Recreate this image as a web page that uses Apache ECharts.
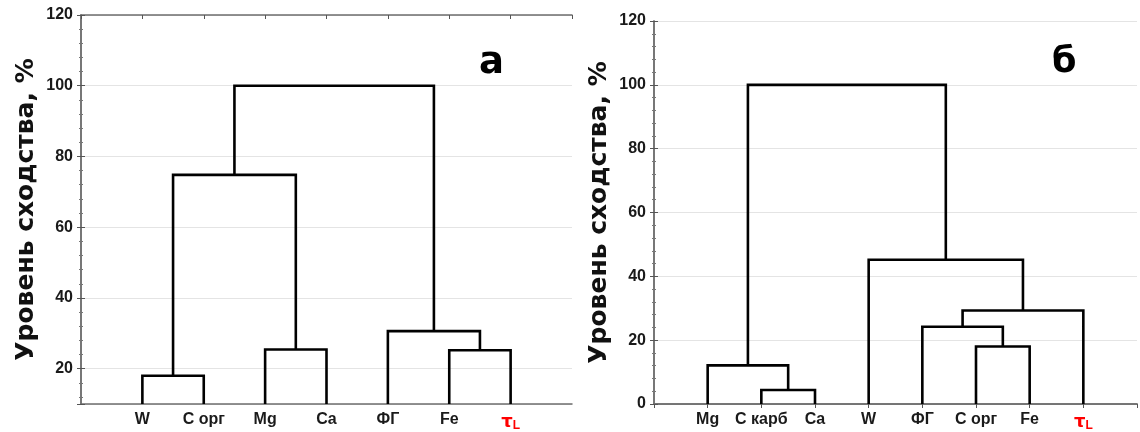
<!DOCTYPE html>
<html>
<head>
<meta charset="utf-8">
<script src="https://cdn.jsdelivr.net/npm/echarts@6/dist/echarts.min.js"></script>
<style>html,body{margin:0;padding:0;background:#fff}#c{width:1140px;height:432px}</style>
</head>
<body>
<div id="c"></div>
<script>
// ---- data: panel "а" ----
const leavesA = ['W', 'C орг', 'Mg', 'Ca', 'ФГ', 'Fe', 'τL'];
const mergeLeftA = [0, 2, 5, 4, 7, 11];
const mergeRightA = [1, 3, 6, 9, 8, 10];
const mergeHeightA = [18, 25.4, 25.2, 30.6, 74.8, 100];
const yRangeA = [10, 120];

// ---- data: panel "б" ----
const leavesB = ['Mg', 'C карб', 'Ca', 'W', 'ФГ', 'C орг', 'Fe', 'τL'];
const mergeLeftB = [1, 0, 5, 4, 11, 3, 9];
const mergeRightB = [2, 8, 6, 10, 7, 12, 13];
const mergeHeightB = [4.4, 12.1, 18, 24.2, 29.3, 45.2, 100];
const yRangeB = [0, 120];

const yAxisName = 'Уровень сходства, %';
const panelLabels = ['а', 'б'];

function links(leaves, L, R, H, base) {
  const xs = leaves.map((_, i) => i + 1);
  const hs = leaves.map(() => base);
  const out = [];
  for (let k = 0; k < H.length; k++) {
    const l = L[k], r = R[k];
    out.push([xs[l], hs[l], xs[r], hs[r], H[k]]);
    xs.push((xs[l] + xs[r]) / 2);
    hs.push(H[k]);
  }
  return out;
}

function renderLink(params, api) {
  const p = [
    api.coord([api.value(0), api.value(1)]),
    api.coord([api.value(0), api.value(4)]),
    api.coord([api.value(2), api.value(4)]),
    api.coord([api.value(2), api.value(3)])
  ];
  return { type: 'polyline', shape: { points: p }, style: { stroke: '#000', lineWidth: 2.6, fill: null } };
}

const lineStyle = { color: '#6e6e6e', width: 1.5 };
const labelFont = { fontFamily: 'Liberation Sans', fontWeight: 'bold', fontSize: 16, color: '#1a1a1a' };
const rich = {
  tau: { color: '#ff0000', fontFamily: 'DejaVu Sans', fontWeight: 'bold', fontSize: 18 },
  sub: { color: '#ff0000', fontFamily: 'Liberation Sans', fontWeight: 'bold', fontSize: 12, padding: [8, 0, 0, 0] }
};
function leafFormatter(leaves) {
  return function (v) {
    const s = leaves[Math.round(v) - 1];
    if (s === undefined || Math.abs(v - Math.round(v)) > 1e-6) return '';
    if (s === 'τL') return '{tau|τ}{sub|L}';
    return s;
  };
}

function axesFor(gi, leaves, yRange) {
  const n = leaves.length + 1;
  const xa = [
    { gridIndex: gi, type: 'value', position: 'bottom', min: 0, max: n, interval: 1,
      axisLine: { lineStyle }, axisTick: { show: false }, splitLine: { show: false },
      axisLabel: Object.assign({ margin: 8, formatter: leafFormatter(leaves), rich }, labelFont) },
    { gridIndex: gi, type: 'value', position: 'top', min: 0, max: n, interval: 1,
      axisLine: { lineStyle }, axisTick: { inside: true, length: 4, lineStyle: { color: '#555' } },
      axisLabel: { show: false }, splitLine: { show: false } }
  ];
  const ya = [
    { gridIndex: gi, type: 'value', position: 'left', min: yRange[0], max: yRange[1], splitNumber: 6,
      name: yAxisName, nameLocation: 'middle', nameGap: 42,
      nameTextStyle: { fontFamily: 'DejaVu Sans', fontWeight: 'bold', fontSize: 25, color: '#111' },
      axisLine: { lineStyle }, axisTick: { inside: true, length: 4, lineStyle: { color: '#555' } },
      minorTick: { show: true, splitNumber: 5, length: 2, lineStyle: { color: '#777' } },
      splitLine: { lineStyle: { color: '#e4e4e4', width: 1 } },
      axisLabel: Object.assign({ margin: 8, showMinLabel: yRange[0] === 0 }, labelFont) },
    { gridIndex: gi, type: 'value', position: 'right', min: yRange[0], max: yRange[1], splitNumber: 6,
      axisLine: { lineStyle }, axisTick: { inside: true, length: 4, lineStyle: { color: '#555' } },
      minorTick: { show: true, splitNumber: 5, length: 2, lineStyle: { color: '#777' } },
      splitLine: { show: false }, axisLabel: { show: false } }
  ];
  return { xa, ya };
}

const A = axesFor(0, leavesA, yRangeA);
const B = axesFor(1, leavesB, yRangeB);

const chart = echarts.init(document.getElementById('c'), null, { renderer: 'canvas' });
chart.setOption({
  animation: false,
  backgroundColor: '#fff',
  grid: [
    { left: 81, top: 15, width: 491, height: 389 },
    { left: 654, top: 21, width: 484, height: 385 }
  ],
  xAxis: A.xa.concat(B.xa),
  yAxis: A.ya.concat(B.ya),
  title: [
    { text: panelLabels[0], left: 474, top: 40, textStyle: { fontFamily: 'DejaVu Sans', fontWeight: 'bold', fontSize: 37, color: '#000' } },
    { text: panelLabels[1], left: 1047, top: 40, textStyle: { fontFamily: 'DejaVu Sans', fontWeight: 'bold', fontSize: 35, color: '#000' } }
  ],
  series: [
    { type: 'custom', xAxisIndex: 0, yAxisIndex: 0, renderItem: renderLink, clip: false,
      encode: { x: [0, 2], y: [1, 3, 4] }, data: links(leavesA, mergeLeftA, mergeRightA, mergeHeightA, yRangeA[0]) },
    { type: 'custom', xAxisIndex: 2, yAxisIndex: 2, renderItem: renderLink, clip: false,
      encode: { x: [0, 2], y: [1, 3, 4] }, data: links(leavesB, mergeLeftB, mergeRightB, mergeHeightB, yRangeB[0]) }
  ]
});
</script>
</body>
</html>
